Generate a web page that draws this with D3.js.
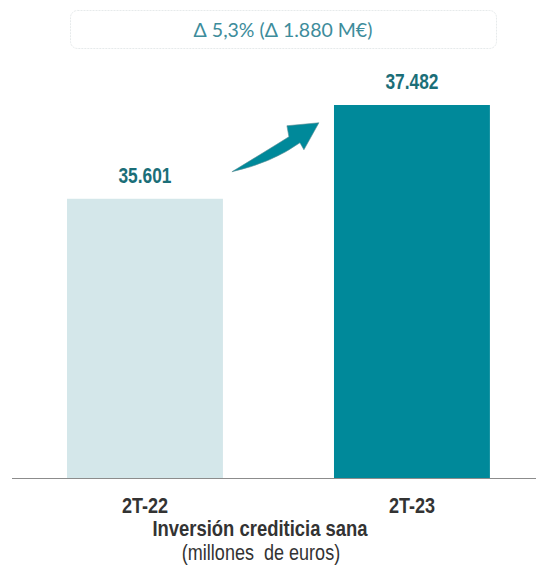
<!DOCTYPE html>
<html lang="es">
<head>
    <meta charset="UTF-8">
    <title>Inversión crediticia sana</title>
    <style>
        body { margin: 0; background: #fff; }
    </style>
</head>
<body>
<script src="https://d3js.org/d3.v7.min.js"></script>

<div id="my_data"></div>

<script type="text/javascript">

    // datos
    var categories = ["2T-22", "2T-23"];
    var values = [35601, 37482];
    var valueLabels = ["35.601", "37.482"];
    var barColors = ["#d4e7ea", "#00899a"];
    var deltaText = "\u0394 5,3% (\u0394 1.880 M\u20ac)";
    var titleText = "Inversión crediticia sana";
    var subtitleText = "(millones\u00a0 de euros)";

    var width = 536,
        height = 567,
        baseY = 478;

    // fuente estrecha simulada (Arial Narrow ~ 82% de Arial)
    var narrowFont = "'Liberation Sans', Arial, sans-serif";
    var narrowScale = "scale(0.82,1)";

    var svg = d3
        .select("#my_data")
        .append("svg")
        .attr("width", width)
        .attr("height", height);

    // escalas
    var x = d3
        .scaleBand()
        .domain(categories)
        .range([13.6, 543.3])
        .paddingInner(0.416)
        .paddingOuter(0.2);

    var y = d3
        .scaleLinear()
        .domain([30000, 37482])
        .range([baseY, 105]);

    // caja de variación
    svg.append("rect")
        .attr("x", 70.5)
        .attr("y", 10.5)
        .attr("width", 426)
        .attr("height", 38)
        .attr("rx", 7)
        .attr("ry", 7)
        .style("fill", "#fff")
        .style("stroke", "#e6eaeb")
        .style("stroke-dasharray", "2,1");

    svg.append("text")
        .attr("x", 283)
        .attr("y", 37)
        .attr("text-anchor", "middle")
        .style("font-family", "Lato, 'Open Sans', sans-serif")
        .style("font-size", "19.5px")
        .style("fill", "#3d8c9b")
        .text(deltaText);

    // barras
    svg.selectAll(".bar")
        .data(values)
        .enter()
        .append("rect")
        .attr("class", "bar")
        .attr("x", function(d, i) { return x(categories[i]); })
        .attr("y", function(d) { return y(d); })
        .attr("width", x.bandwidth())
        .attr("height", function(d) { return baseY - y(d); })
        .style("fill", function(d, i) { return barColors[i]; });

    // etiquetas de valor
    svg.selectAll(".val")
        .data(values)
        .enter()
        .append("text")
        .attr("class", "val")
        .attr("transform", function(d, i) {
            return "translate(" + (x(categories[i]) + x.bandwidth() / 2) + "," + (y(d) - 16) + ") scale(0.77,1)";
        })
        .attr("text-anchor", "middle")
        .style("font-family", narrowFont)
        .style("font-weight", "bold")
        .style("font-size", "22.5px")
        .style("fill", "#1b6e78")
        .text(function(d, i) { return valueLabels[i]; });

    // eje x
    var xAxis = svg.append("g")
        .attr("transform", "translate(0," + baseY + ")")
        .call(d3.axisBottom(x).tickSize(0));
    xAxis.select(".domain").remove();
    xAxis.selectAll("text")
        .attr("y", 35)
        .attr("dy", null)
        .attr("transform", narrowScale)
        .style("font-family", narrowFont)
        .style("font-weight", "bold")
        .style("font-size", "22px")
        .style("fill", "#333");

    svg.append("line")
        .attr("x1", 12)
        .attr("x2", width)
        .attr("y1", baseY + 0.5)
        .attr("y2", baseY + 0.5)
        .style("stroke", "#8c8c8c")
        .style("stroke-width", 1.2);

    // flecha
    var ax = x(categories[0]) + x.bandwidth() + 9,
        ay = y(values[0]) - 27;
    var arrow = d3.path();
    arrow.moveTo(ax, ay);
    arrow.quadraticCurveTo(ax + 33, ay - 20, ax + 57, ay - 35);
    arrow.lineTo(ax + 55, ay - 46);
    arrow.lineTo(ax + 87, ay - 49);
    arrow.lineTo(ax + 72, ay - 22);
    arrow.lineTo(ax + 68, ay - 29);
    arrow.quadraticCurveTo(ax + 40, ay - 9, ax, ay);
    arrow.closePath();
    svg.append("path")
        .attr("d", arrow.toString())
        .style("fill", "#00899a")
        .style("stroke", "#5f8f96")
        .style("stroke-width", 0.6);

    // título
    svg.append("text")
        .attr("transform", "translate(260,536) " + narrowScale)
        .attr("text-anchor", "middle")
        .style("font-family", narrowFont)
        .style("font-weight", "bold")
        .style("font-size", "22.5px")
        .style("fill", "#333")
        .text(titleText);

    svg.append("text")
        .attr("transform", "translate(261,560) " + narrowScale)
        .attr("text-anchor", "middle")
        .style("font-family", narrowFont)
        .style("font-size", "22px")
        .style("fill", "#333")
        .text(subtitleText);

</script>
</body>
</html>
